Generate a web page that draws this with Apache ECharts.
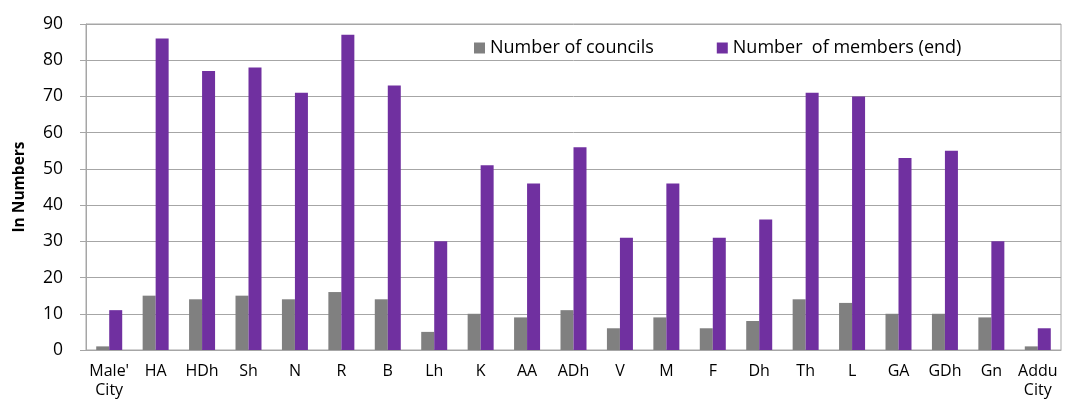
<!DOCTYPE html>
<html><head><meta charset="utf-8">
<script src="https://cdn.jsdelivr.net/npm/echarts@6/dist/echarts.min.js"></script>
<style>html,body{margin:0;padding:0;background:#fff}#c{width:1083px;height:406px}</style>
</head><body><div id="c"></div>
<script>
const categories = ["Male'\nCity","HA","HDh","Sh","N","R","B","Lh","K","AA","ADh","V","M","F","Dh","Th","L","GA","GDh","Gn","Addu\nCity"];
const councils = [1,15,14,15,14,16,14,5,10,9,11,6,9,6,8,14,13,10,10,9,1];
const members = [11,86,77,78,71,87,73,30,51,46,56,31,46,31,36,71,70,53,55,30,6];
const yTicks = {min:0,max:90,interval:10};
const font = "'Open Sans', sans-serif";
const chart = echarts.init(document.getElementById('c'));
chart.setOption({
  animation:false,
  textStyle:{fontFamily:font},
  grid:{left:86,right:22,top:24,bottom:56,show:true,borderColor:'#a6a6a6',borderWidth:1},
  legend:{left:469,top:34,itemWidth:11,itemHeight:11,itemGap:63,icon:'rect',
    textStyle:{fontSize:18,color:'#000',fontFamily:font},
    data:['Number of councils','Number  of members (end)']},
  xAxis:{type:'category',data:categories,
    axisLine:{lineStyle:{color:'#a6a6a6'}},axisTick:{show:false},
    axisLabel:{color:'#000',fontSize:16,lineHeight:19,margin:12,interval:0,fontFamily:font}},
  yAxis:{type:'value',min:yTicks.min,max:yTicks.max,interval:yTicks.interval,
    name:'In Numbers',nameLocation:'middle',nameGap:58,nameRotate:90,
    nameTextStyle:{fontSize:15.5,fontWeight:'bold',color:'#000',fontFamily:font},
    axisLine:{show:true,lineStyle:{color:'#a6a6a6'}},
    axisTick:{show:true,length:6,lineStyle:{color:'#a6a6a6'}},
    axisLabel:{color:'#000',fontSize:17.5,margin:23,fontFamily:font},
    splitLine:{lineStyle:{color:'#a6a6a6'}}},
  series:[
    {name:'Number of councils',type:'bar',data:councils,itemStyle:{color:'#808080'},barWidth:13,barGap:'0%'},
    {name:'Number  of members (end)',type:'bar',data:members,itemStyle:{color:'#7030a0'},barWidth:13,barGap:'0%'}
  ]
});
</script></body></html>
